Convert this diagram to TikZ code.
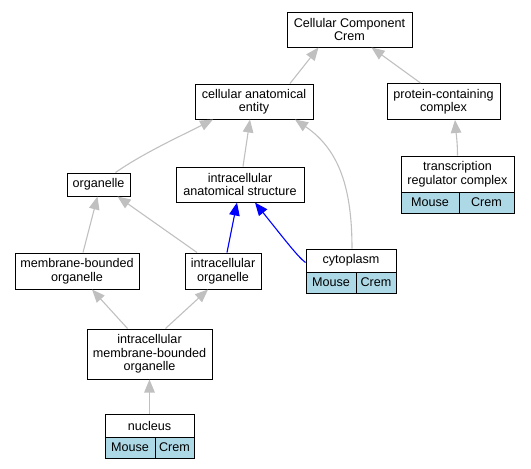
\documentclass[tikz,border=0pt]{standalone}
\usepackage{fontspec}
\setmainfont{Liberation Sans}
\usetikzlibrary{positioning, arrows.meta}

\definecolor{edgegray}{RGB}{192,192,192}
\definecolor{celblue}{RGB}{173,216,230}

\begin{document}
\begin{tikzpicture}[
    x=1pt, y=-1pt,
    term/.style={rectangle, draw=black, line width=1pt, fill=white, inner sep=0pt,
                 align=center, font=\fontsize{12.6}{13.5}\selectfont},
    cell/.style={term, fill=celblue},
    isa/.style={draw=edgegray, line width=1.1pt, -{Triangle[length=13pt, width=10.5pt]}},
    partof/.style={draw=blue, line width=1.1pt, -{Triangle[length=13pt, width=10.5pt]}}
]

    % Canvas
    \useasboundingbox (0,0) rectangle (531,469);

    % Top terms
    \node[term, minimum width=125pt, minimum height=35pt] (cc) at (349.5, 29.5) {Cellular Component\\Crem};
    \node[term, minimum width=118pt, minimum height=35pt] (cae) at (254, 101.5) {cellular anatomical\\entity};
    \node[term, minimum width=113pt, minimum height=36pt] (pcc) at (443.5, 101.5) {protein-containing\\complex};

    % Transcription regulator complex
    \node[term, minimum width=113pt, minimum height=36pt] (trc) at (457.5, 174) {transcription\\regulator complex};
    \node[cell, minimum width=58pt, minimum height=21pt] (trcM) at (430, 202.5) {Mouse};
    \node[cell, minimum width=55pt, minimum height=21pt] (trcC) at (486.5, 202.5) {Crem};

    % Middle terms
    \node[term, minimum width=63pt, minimum height=23pt] (org) at (98.5, 184.5) {organelle};
    \node[term, minimum width=128pt, minimum height=35pt] (ias) at (240, 184.5) {intracellular\\anatomical structure};
    \node[term, minimum width=124pt, minimum height=36pt] (mbo) at (77, 271) {membrane-bounded\\organelle};
    \node[term, minimum width=76pt, minimum height=36pt] (io) at (223, 271) {intracellular\\organelle};

    % Cytoplasm
    \node[term, minimum width=90pt, minimum height=23pt] (cyt) at (351, 260.5) {cytoplasm};
    \node[cell, minimum width=50pt, minimum height=21pt] (cytM) at (331, 282.5) {Mouse};
    \node[cell, minimum width=40pt, minimum height=21pt] (cytC) at (376, 282.5) {Crem};

    % Lower terms
    \node[term, minimum width=125pt, minimum height=50pt] (imbo) at (149.5, 354) {intracellular\\membrane-bounded\\organelle};
    \node[term, minimum width=89pt, minimum height=23pt] (nuc) at (149.5, 425.5) {nucleus};
    \node[cell, minimum width=50pt, minimum height=21pt] (nucM) at (130, 447.5) {Mouse};
    \node[cell, minimum width=39pt, minimum height=21pt] (nucC) at (174.5, 447.5) {Crem};

    % is_a edges
    \draw[isa] ([xshift=36pt]cae.north) -- ([xshift=-31pt]cc.south);
    \draw[isa] ([xshift=-23pt]pcc.north) -- ([xshift=22pt]cc.south);
    \draw[isa] (trc.north) .. controls (457.5, 142) and (456, 132) .. ([xshift=11.5pt]pcc.south);
    \draw[isa] ([xshift=17pt]org.north) .. controls (145, 152) and (185, 134) .. ([xshift=-41pt]cae.south);
    \draw[isa] ([xshift=3pt]ias.north) -- ([xshift=-4pt]cae.south);
    \draw[isa] ([xshift=1pt]cyt.north) .. controls (352, 190) and (340, 150) .. ([xshift=41pt]cae.south);
    \draw[isa] ([xshift=6pt]mbo.north) -- ([xshift=-1pt]org.south);
    \draw[isa] ([xshift=-26pt]io.north) -- ([xshift=19pt]org.south);
    \draw[isa] ([xshift=-22pt]imbo.north) -- ([xshift=15pt]mbo.south);
    \draw[isa] ([xshift=16pt]imbo.north) -- ([xshift=-15pt]io.south);
    \draw[isa] (nuc.north) -- (imbo.south);

    % part_of edges
    \draw[partof] ([xshift=4pt]io.north) -- ([xshift=-3pt]ias.south);
    \draw[partof] ([yshift=-2pt]cyt.west) .. controls (298, 257) and (285, 240) .. ([xshift=15pt]ias.south);

\end{tikzpicture}
\end{document}
